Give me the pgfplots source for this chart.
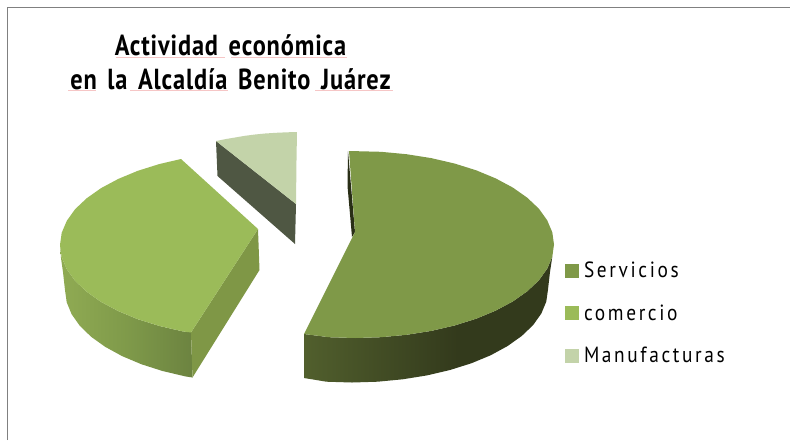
\documentclass[border=0pt]{standalone}
\usepackage{fontspec}
\setmainfont[LetterSpace=12,FakeStretch=0.88]{PT Sans}
\newfontfamily\titlefont[LetterSpace=3,FakeStretch=0.84,WordSpace=1.5]{PT Sans}
\usepackage{pgfplots}
\pgfplotsset{compat=1.18}
\definecolor{serv}{HTML}{7F9948}
\definecolor{come}{HTML}{9BBB59}
\definecolor{manu}{HTML}{C3D3A9}
\definecolor{manudark}{HTML}{4F5743}
\definecolor{comefront}{HTML}{7F9746}
\definecolor{squig}{HTML}{F6C6C6}
\definecolor{sa}{HTML}{515F2D}
\definecolor{sb}{HTML}{333A1C}
\definecolor{ca}{HTML}{90AB53}
\definecolor{cb}{HTML}{7F9A4A}
\definecolor{cc}{HTML}{6C8340}
\pgfdeclarehorizontalshading{servside}{100bp}{color(0bp)=(sa);color(25bp)=(sa);color(56bp)=(sb);color(100bp)=(sb)}
\pgfdeclarehorizontalshading{comeside}{100bp}{color(0bp)=(ca);color(25bp)=(ca);color(50bp)=(cb);color(75bp)=(cc);color(100bp)=(cc)}
\begin{document}
\begin{tikzpicture}
\begin{axis}[
  scale only axis, width=790pt, height=440pt,
  xmin=0, xmax=790, ymin=0, ymax=440, y dir=reverse,
  hide axis, clip=true,
  title={\titlefont\bfseries Actividad económica\\\titlefont\bfseries en la Alcaldía Benito Juárez},
  title style={at={(axis cs:230.5,40.5)}, anchor=north, align=center, font=\fontsize{29}{33.5}\selectfont, inner sep=0pt},
  legend style={at={(axis cs:565,260)}, anchor=north west, draw=none, fill=none, inner sep=0pt, outer sep=0pt,
    font=\fontsize{22}{24}\selectfont, row sep=21.5pt, /tikz/every odd column/.append style={column sep=3pt}},
  legend cell align=left,
  legend image code/.code={\fill[#1] (0pt,-7pt) rectangle (14pt,7pt);},
]
% frame
\addplot[draw=gray, line width=1.5pt, forget plot] coordinates {(7.7,440) (7.7,7.5) (790,7.5)};
% Manufacturas
\addplot[draw=none, fill=manudark, forget plot] coordinates {(216,141) (217.5,176) (295,244) (296,204)} --cycle;
\addplot[draw=none, fill=manu, forget plot] coordinates {(216,141) (225,139.2) (235,137.5) (245,135.8) (255,134.5) (265,133.5) (276,132.8) (287,132.3) (297,132) (296.5,160) (296,204)} --cycle;
% comercio
\addplot[draw=none, shading=comeside, forget plot] coordinates {(60,245) (61,258) (63,272) (65,290) (66.7,302.2) (71.6,314.2) (79.8,325.8) (91.1,336.75) (105.3,346.9) (122.1,356.1) (141.3,364.2) (162.5,371) (185.4,376.4) (192.5,377.5) (191,332) (182.8,331.4) (159.5,326) (137.8,319.2) (118.3,311.1) (101.1,301.9) (86.7,291.75) (75.1,280.8) (66.8,269.2) (61.7,257.2)} --cycle;
\addplot[draw=none, fill=comefront, forget plot] coordinates {(191,332.5) (192.5,377.5) (259.5,270) (258,229)} --cycle;
\addplot[draw=none, fill=come, forget plot] coordinates {(181,159) (159.5,164) (137.8,170.8) (118.3,178.9) (101.1,188.1) (86.7,198.25) (75.1,209.2) (66.8,220.8) (61.7,232.8) (60,245) (61.7,257.2) (66.8,269.2) (75.1,280.8) (86.7,291.75) (101.1,301.9) (118.3,311.1) (137.8,319.2) (159.5,326) (182.8,331.4) (191,332.5) (258,229)} --cycle;
% Servicios
\addplot[draw=none, fill=sb!80!black, forget plot] coordinates {(348,151) (347.5,186) (352,237) (355,232)} --cycle;
\addplot[draw=none, shading=servside, forget plot] coordinates {(304,334) (304,378) (326.4,381.7) (352,382.5) (377.6,381.7) (402.7,379.3) (427,375.4) (450,370) (471.3,363.3) (490.6,355.3) (507.5,346.1) (521.7,336) (533.1,325.1) (541.3,313.6) (546.3,301.6) (548,289.5) (550,272) (552.3,256.7) (547.2,268.7) (538.9,280.3) (527.3,291.25) (512.9,301.4) (495.7,310.6) (476.2,318.7) (454.5,325.5) (431.2,330.9) (406.5,334.8) (381,337.2) (355,338) (329,337.2)} --cycle;
\addplot[draw=none, fill=serv, forget plot] coordinates {(349,151) (381,151.8) (406.5,154.2) (431.2,158.1) (454.5,163.5) (476.2,170.3) (495.7,178.4) (512.9,187.6) (527.3,197.75) (538.9,208.7) (547.2,220.3) (552.3,232.3) (554,244.5) (552.3,256.7) (547.2,268.7) (538.9,280.3) (527.3,291.25) (512.9,301.4) (495.7,310.6) (476.2,318.7) (454.5,325.5) (431.2,330.9) (406.5,334.8) (381,337.2) (355,338) (329,337.2) (304,334) (355,232)} --cycle;
% spell-check underlines
\addplot[draw=squig, line width=1pt, forget plot] coordinates {(116,57) (225,57)};
\addplot[draw=squig, line width=1pt, forget plot] coordinates {(231,57) (347,57)};
\addplot[draw=squig, line width=1pt, forget plot] coordinates {(68,90.3) (96,90.3)};
\addplot[draw=squig, line width=1pt, forget plot] coordinates {(130,90.3) (228,90.3)};
\addplot[draw=squig, line width=1pt, forget plot] coordinates {(315,90.3) (393,90.3)};
\addlegendimage{fill=serv,draw=none}\addlegendentry{Servicios}
\addlegendimage{fill=come,draw=none}\addlegendentry{comercio}
\addlegendimage{fill=manu,draw=none}\addlegendentry{Manufacturas}
\path (axis cs:0,0) rectangle (axis cs:790,440);
\end{axis}
\end{tikzpicture}
\end{document}
